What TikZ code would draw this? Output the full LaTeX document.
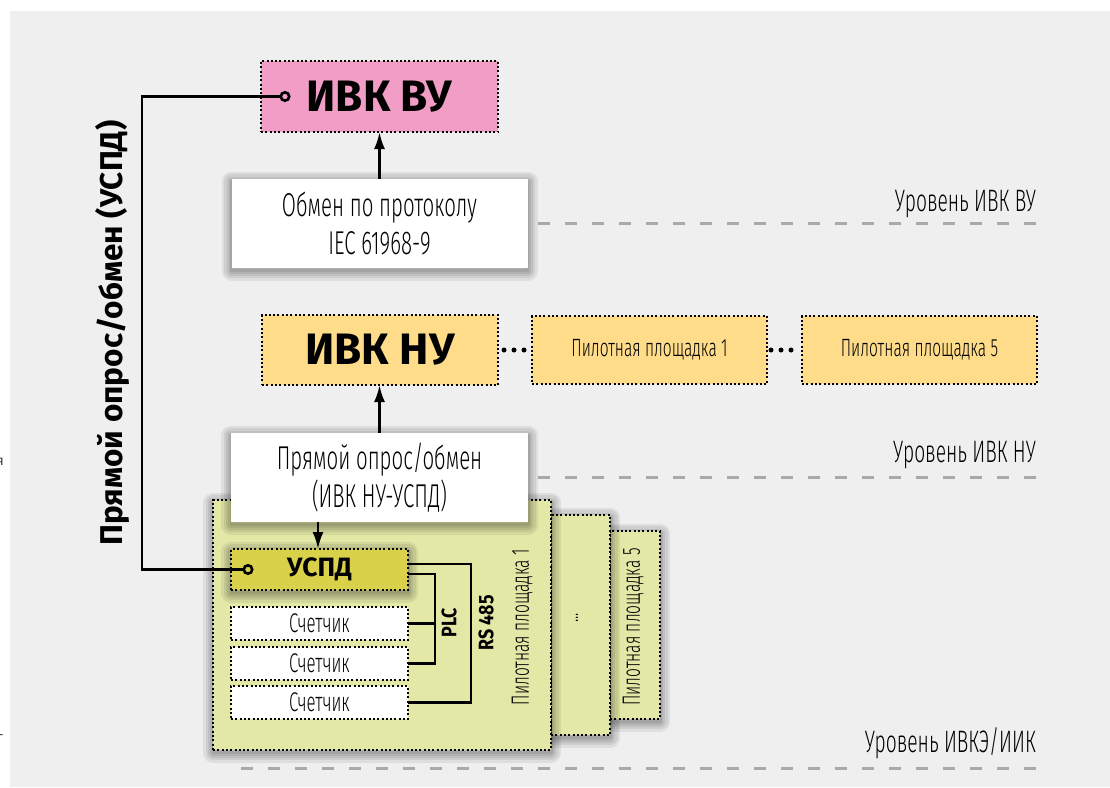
\documentclass[tikz,border=0pt]{standalone}
\usepackage{fontspec}
\setmainfont{Fira Sans}
\newfontfamily\condlight[FakeStretch=0.62]{Fira Sans Light}
\newfontfamily\condbold[FakeStretch=0.85]{Fira Sans}
\usetikzlibrary{arrows.meta,calc}

\definecolor{pagebg}{HTML}{EFEFEF}
\definecolor{vupink}{HTML}{F19DC5}
\definecolor{nuorange}{HTML}{FEDC8A}
\definecolor{sitegreen}{HTML}{E3E8A7}
\definecolor{uspdolive}{HTML}{D9D14A}
\definecolor{levelgray}{HTML}{A9A9A9}

\tikzset{
  halo/.style={preaction={draw=black, solid, fill=none, line join=round,
    line width=#1, draw opacity=0.07, transform canvas={yshift=-2.5pt}}},
  softshadow/.style={halo=20pt, halo=15pt, halo=10pt, halo=6pt, halo=3pt},
  dotbox/.style={draw=black, line width=2pt, dash pattern=on 2pt off 2.3pt,
    inner sep=0pt, outer sep=0pt},
  whitebox/.style={fill=white, inner sep=0pt, outer sep=0pt, align=center,
    softshadow, font=\condlight\fontsize{33}{38}\selectfont},
  bigtitle/.style={font=\bfseries\fontsize{44}{44}\selectfont},
  sitelabel/.style={font=\condlight\fontsize{25}{25}\selectfont},
  meterlabel/.style={font=\condlight\fontsize{27}{27}\selectfont},
  levellabel/.style={font=\condlight\fontsize{31}{31}\selectfont, anchor=base east,
    inner sep=0pt},
  levelline/.style={draw=levelgray, line width=3pt, dash pattern=on 12pt off 15pt},
  wire/.style={draw=black, line width=2.6pt},
  arr/.style={wire, -{Latex[length=17pt,width=11pt]}},
  ring/.style={wire, {Circle[open,length=11pt,width=11pt]}-{Circle[open,length=11pt,width=11pt]}},
  dotrow/.style={draw=black, line width=5pt, line cap=round, dash pattern=on 0pt off 10pt},
  buslabel/.style={font=\condbold\bfseries\fontsize{21}{21}\selectfont, rotate=90},
}

\begin{document}
\begin{tikzpicture}[x=1pt, y=-1pt]
\useasboundingbox (0,0) rectangle (1110,787);
\fill[pagebg] (10,11) rectangle (1110,787);

% fragments of neighbouring text at the left edge
\node[anchor=east, inner sep=0pt, text=black!75, font=\fontsize{14}{14}\selectfont] (fragA) at (4,462) {я};
\node[anchor=east, inner sep=0pt, text=black!75, font=\fontsize{14}{14}\selectfont] (fragB) at (4,737) {-};

% level separators
\draw[levelline] (241,223) -- (1036,223);
\draw[levelline] (241,477) -- (1036,477);
\draw[levelline] (241,768) -- (1036,768);
\node[levellabel] (lvu) at (1036,211) {Уровень ИВК ВУ};
\node[levellabel] (lnu) at (1036,462) {Уровень ИВК НУ};
\node[levellabel] (lik) at (1036,752) {Уровень ИВКЭ/ИИК};

% pilot site cards (stacked)
\node[dotbox, fill=sitegreen, softshadow, minimum width=50pt, minimum height=188pt] (site5) at (635,625) {};
\node[dotbox, fill=sitegreen, softshadow, minimum width=59pt, minimum height=220pt] (siten) at (580.5,625) {};
\node[dotbox, fill=sitegreen, softshadow, minimum width=338pt, minimum height=250pt] (site1) at (382,625) {};

\node[sitelabel, rotate=90] (s1lab) at (522,627) {Пилотная площадка 1};
\node[sitelabel, rotate=90] (snlab) at (577,618) {...};
\node[sitelabel, rotate=90] (s5lab) at (633,627) {Пилотная площадка 5};

% devices of site 1
\node[dotbox, fill=uspdolive, softshadow, minimum width=177pt, minimum height=41pt,
  font=\bfseries\fontsize{26.5}{26.5}\selectfont] (uspd) at (319.5,569.5) {УСПД};
\node[dotbox, fill=white, minimum width=177pt, minimum height=33pt, meterlabel] (m1) at (319.5,623.5) {Счетчик};
\node[dotbox, fill=white, minimum width=177pt, minimum height=33pt, meterlabel] (m2) at (319.5,663.5) {Счетчик};
\node[dotbox, fill=white, minimum width=177pt, minimum height=33pt, meterlabel] (m3) at (319.5,702.5) {Счетчик};

% upper levels
\node[dotbox, fill=vupink, minimum width=237pt, minimum height=71pt, bigtitle] (vu) at (379.5,96.5) {ИВК ВУ};
\node[whitebox, minimum width=296pt, minimum height=89pt] (ex) at (379.5,223.5) {Обмен по протоколу\\IEC 61968-9};
\node[dotbox, fill=nuorange, minimum width=236pt, minimum height=70pt, bigtitle] (nu) at (380,350) {ИВК НУ};
\node[dotbox, fill=nuorange, minimum width=235pt, minimum height=68pt, sitelabel] (pp1) at (649.5,350) {Пилотная площадка 1};
\node[dotbox, fill=nuorange, minimum width=235pt, minimum height=68pt, sitelabel] (pp5) at (919.5,350) {Пилотная площадка 5};
\node[whitebox, minimum width=297pt, minimum height=89pt] (direct) at (379.5,477.5) {Прямой опрос/обмен\\(ИВК НУ-УСПД)};

% vertical caption of the direct link
\node[rotate=90, font=\bfseries\fontsize{31.5}{31.5}\selectfont] (title) at (112,333) {Прямой опрос/обмен (УСПД)};

% data flow
\draw[arr] (ex.north) -- (ex.north |- vu.south);
\draw[arr] (direct.north) -- (direct.north |- nu.south);
\draw[arr] ([xshift=-61.5pt]direct.south) -- ([xshift=-61.5pt]direct.south |- uspd.north);

\draw[dotrow, shorten <=6pt, shorten >=7.5pt] (nu.east) -- (pp1.west);
\draw[dotrow, shorten <=4pt, shorten >=10.5pt] (pp1.east) -- (pp5.west);

% direct link УСПД -> ИВК ВУ
\coordinate (bus) at (142,333);
\draw[ring] ([xshift=29.5pt]vu.west) -| (bus) |- ([xshift=22.5pt]uspd.west);

% field buses
\coordinate (plc) at (435,0);
\coordinate (rs) at (471,0);
\draw[wire] ([yshift=-4.5pt]uspd.east) -| (plc |- m2.east) -- (m2.east);
\draw[wire] (m1.east) -- (plc |- m1.east);
\draw[wire] ([yshift=5.5pt]uspd.east) -| (rs |- m3.east) -- (m3.east);
\node[buslabel] (plclab) at (449,623) {PLC};
\node[buslabel] (rslab) at (486,623) {RS 485};
\end{tikzpicture}
\end{document}
